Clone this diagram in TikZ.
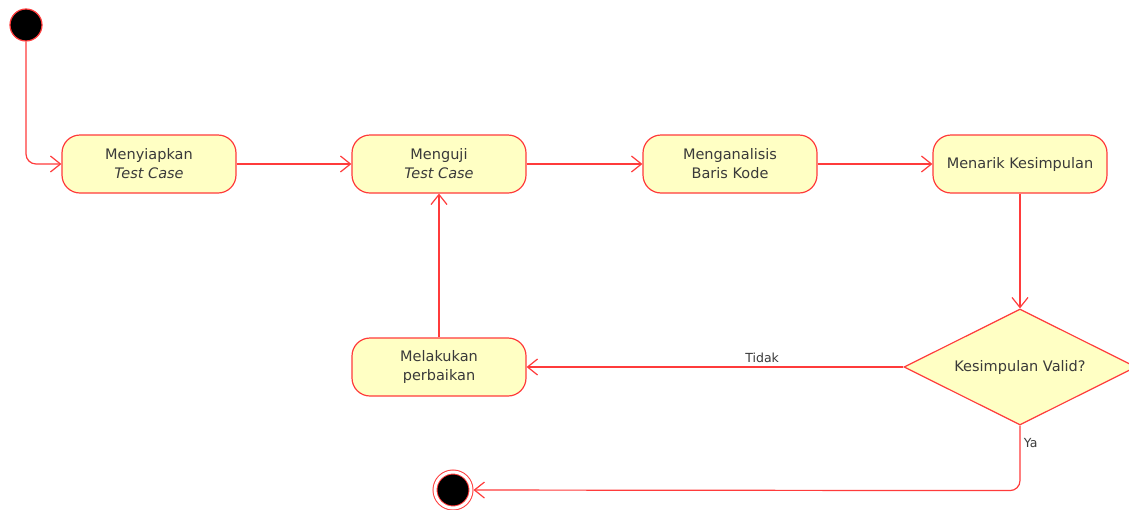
\documentclass[tikz,border=0pt]{standalone}
\usepackage{fontspec}
\setmainfont{DejaVu Sans}
\usetikzlibrary{positioning}
\usetikzlibrary{shapes.geometric}
\usetikzlibrary{arrows.meta}
\definecolor{umlred}{HTML}{FF3B3B}
\definecolor{umlfill}{HTML}{FFFFC4}
\definecolor{umltext}{HTML}{3A3A3A}
\tikzset{
    node distance=290pt,
    activity/.style={
        draw=umlred,
        fill=umlfill,
        line width=1.2pt,
        rounded corners=18pt,
        minimum width=174pt,
        minimum height=58pt,
        align=center,
        text=umltext,
        font=\fontsize{14.5}{19}\selectfont
    },
    decision/.style={
        diamond,
        draw=umlred,
        fill=umlfill,
        line width=1.2pt,
        aspect=2,
        inner sep=0pt,
        minimum width=232pt,
        minimum height=116pt,
        text=umltext,
        font=\fontsize{14.5}{19}\selectfont
    },
    initial node/.style={
        circle,
        draw=umlred,
        fill=black,
        line width=1.2pt,
        minimum size=32pt,
        inner sep=0pt
    },
    final node/.style={
        circle,
        draw=umlred,
        fill=black,
        line width=1pt,
        minimum size=36pt,
        inner sep=0pt,
        double=white,
        double distance=3pt,
        outer sep=2.5pt
    },
    flow/.style={
        draw=umlred,
        line width=1.2pt,
        -{Straight Barb[length=10pt,width=16pt,line width=1.2pt]}
    },
    guard/.style={
        text=umltext,
        font=\fontsize{12.5}{15}\selectfont
    }
}

\begin{document}
\begin{tikzpicture}[x=1pt,y=-1pt]
    \useasboundingbox (0,0) rectangle (1129,509);

    \node[initial node] (start) at (26,25) {};
    \node[activity] (siap) at (149,164) {Menyiapkan\\\textit{Test Case}};
    \node[activity, right of = siap] (uji) {Menguji\\\textit{Test Case}};
    \node[activity, right of = uji, xshift=1pt] (analisis) {Menganalisis\\Baris Kode};
    \node[activity, right of = analisis] (simpul) {Menarik Kesimpulan};
    \node[decision, below of = simpul, node distance=203pt] (valid) {Kesimpulan Valid?};
    \node[activity, below of = uji, node distance=203pt] (baik) {Melakukan\\perbaikan};
    \node[final node] (end) at (453,490) {};

    \draw[flow, rounded corners=10pt] (start) |- (siap);
    \draw[flow] (siap) -- (uji);
    \draw[flow] (uji) -- (analisis);
    \draw[flow] (analisis) -- (simpul);
    \draw[flow] (simpul) -- (valid);
    \draw[flow] (valid) -- node[guard, above, pos=0.375] {Tidak} (baik);
    \draw[flow] (baik) -- (uji);
    \draw[flow, rounded corners=10pt] (valid.south) -- node[guard, right, pos=0.27] {Ya} ++(0,65) -- (end);
\end{tikzpicture}
\end{document}
